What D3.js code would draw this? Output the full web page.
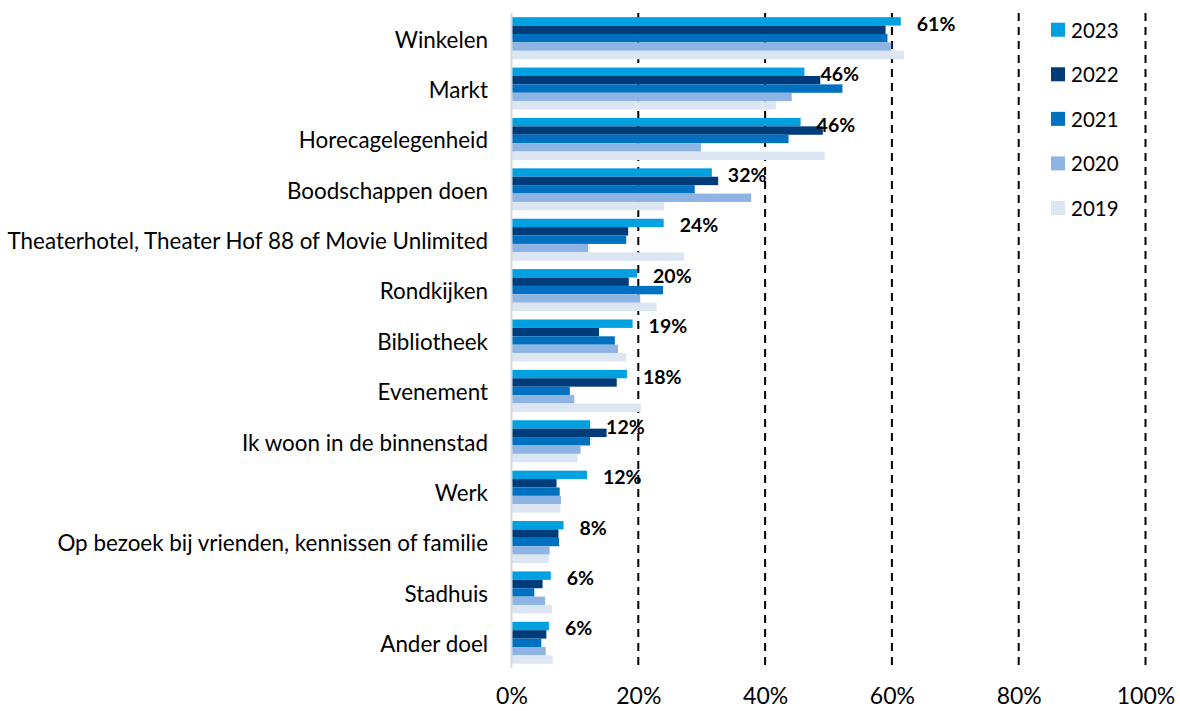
<!DOCTYPE html>
<html>
<head>
<meta charset="utf-8">
<script src="https://cdn.jsdelivr.net/npm/d3@7"></script>
<style>
  html, body { margin: 0; padding: 0; background: #fff; }
  svg { display: block; }
  text { font-family: Lato, "Noto Sans", sans-serif; fill: #000; }
</style>
</head>
<body>
<svg id="chart" width="1180" height="711"></svg>
<script>
const categories = [
  "Winkelen", "Markt", "Horecagelegenheid", "Boodschappen doen",
  "Theaterhotel, Theater Hof 88 of Movie Unlimited", "Rondkijken",
  "Bibliotheek", "Evenement", "Ik woon in de binnenstad", "Werk",
  "Op bezoek bij vrienden, kennissen of familie", "Stadhuis", "Ander doel"
];
const years = ["2023", "2022", "2021", "2020", "2019"];
const v2023 = [61.4, 46.2, 45.6, 31.6, 24.0, 19.8, 19.1, 18.2, 12.4, 11.9, 8.2, 6.2, 5.9];
const v2022 = [59.0, 48.7, 49.1, 32.6, 18.4, 18.5, 13.8, 16.6, 15.0, 7.1, 7.4, 4.9, 5.5];
const v2021 = [59.3, 52.2, 43.7, 28.9, 18.1, 23.9, 16.3, 9.2, 12.4, 7.6, 7.5, 3.6, 4.7];
const v2020 = [59.9, 44.2, 29.9, 37.8, 12.1, 20.3, 16.8, 9.9, 10.9, 7.8, 6.0, 5.3, 5.4];
const v2019 = [61.9, 41.7, 49.4, 24.1, 27.2, 22.9, 18.1, 20.4, 10.4, 7.7, 5.9, 6.4, 6.5];
const labels2023 = [61, 46, 46, 32, 24, 20, 19, 18, 12, 12, 8, 6, 6];
const xTicks = [0, 20, 40, 60, 80, 100];
const colors = ["#00A0E1", "#003B7A", "#0070C0", "#8EB4E3", "#DCE6F2"];

const series = [v2023, v2022, v2021, v2020, v2019];

const svg = d3.select("#chart");

const x = d3.scaleLinear().domain([0, 100]).range([511.5, 1145.5]);
const y = d3.scaleBand().domain(categories).range([13, 668]).paddingInner(0.166).paddingOuter(0.083);
const yInner = d3.scaleBand().domain(years).range([0, y.bandwidth()]);
const color = d3.scaleOrdinal().domain(years).range(colors);

// gridlines (dashed)
svg.append("g").selectAll("line")
  .data(xTicks.filter(t => t > 0))
  .join("line")
  .attr("x1", d => x(d)).attr("x2", d => x(d))
  .attr("y1", 13).attr("y2", 668)
  .attr("stroke", "#000").attr("stroke-width", 2)
  .attr("stroke-dasharray", "8,6");

// bars
const rows = categories.map((c, i) => ({ cat: c, vals: years.map((yr, j) => ({ yr, v: series[j][i] })) }));
const g = svg.append("g");
const grp = g.selectAll("g.cat").data(rows).join("g")
  .attr("transform", d => `translate(0,${y(d.cat)})`);
grp.selectAll("rect").data(d => d.vals).join("rect")
  .attr("x", x(0))
  .attr("y", d => yInner(d.yr))
  .attr("width", d => x(d.v) - x(0))
  .attr("height", yInner.bandwidth())
  .attr("fill", d => color(d.yr));

// axis line
svg.append("line")
  .attr("x1", x(0)).attr("x2", x(0))
  .attr("y1", 13).attr("y2", 668)
  .attr("stroke", "#D9D9D9").attr("stroke-width", 2);

// value labels (2023)
svg.append("g").selectAll("text").data(categories).join("text")
  .attr("x", (d, i) => x(v2023[i]) + 16)
  .attr("y", d => y(d) + yInner("2023") + yInner.bandwidth() / 2 + 2)
  .attr("dominant-baseline", "central")
  .attr("font-size", 19.5).attr("font-weight", "bold")
  .text((d, i) => labels2023[i] + "%");

// category labels
const yAxis = d3.axisLeft(y).tickSize(0).tickPadding(0);
const ya = svg.append("g").attr("transform", `translate(488,0)`).call(yAxis);
ya.select(".domain").remove();
ya.selectAll("text")
  .attr("font-size", 22.4)
  .attr("font-family", "Lato, 'Noto Sans', sans-serif")
  .attr("fill", "#000")
  .attr("dy", "0.35em")
  .attr("y", 1.5);

// x axis labels
const xAxis = d3.axisBottom(x).tickValues(xTicks).tickFormat(d => d + "%").tickSize(0).tickPadding(0);
const xa = svg.append("g").attr("transform", `translate(0,688)`).call(xAxis);
xa.select(".domain").remove();
xa.selectAll("text")
  .attr("font-size", 23)
  .attr("font-family", "Lato, 'Noto Sans', sans-serif")
  .attr("fill", "#000")
  .attr("dy", "0.71em");

// legend
const legendCenters = d3.scalePoint().domain(years).range([29.7, 208]);
const lg = svg.append("g").selectAll("g").data(years).join("g")
  .attr("transform", d => `translate(1051,${legendCenters(d)})`);
lg.append("rect").attr("x", 0).attr("y", -7).attr("width", 14).attr("height", 14)
  .attr("fill", d => color(d));
lg.append("text").attr("x", 20).attr("y", 0)
  .attr("dominant-baseline", "central")
  .attr("font-size", 20.5)
  .text(d => d);
</script>
</body>
</html>
